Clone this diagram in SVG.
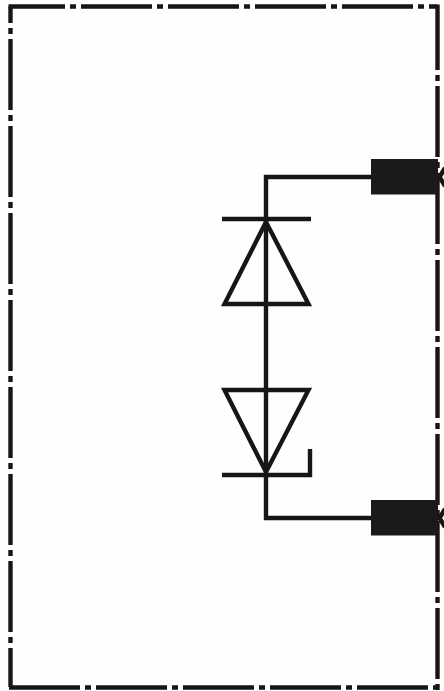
<svg xmlns="http://www.w3.org/2000/svg" width="444" height="691" viewBox="0 0 444 691">
<defs>
<filter id="soft" x="-5%" y="-5%" width="110%" height="110%" color-interpolation-filters="sRGB"><feGaussianBlur stdDeviation="0.7"/></filter>
</defs>
<style>
.ln{fill:none;stroke:#161616;stroke-width:4.400;stroke-linecap:butt;stroke-linejoin:miter}
.bd{fill:none;stroke:#161616;stroke-width:4.400;stroke-dasharray:71 5 6 5}
.pin{fill:#1a1a1a;stroke:#1a1a1a;stroke-width:1}
</style>
<rect width="444" height="691" fill="#fefefe"/>
<g filter="url(#soft)">
<g id="frame">
<path class="bd" stroke-dashoffset="14.5" d="M8.5 6.5H437"/>
<path class="bd" stroke-dashoffset="54.5" d="M10.5 6.5V687"/>
<path class="bd" stroke-dashoffset="86.5" d="M8.5 687.5H437"/>
<path class="bd" stroke-dashoffset="5.5" d="M437.5 4.5V690"/>
</g>
<g id="connectors">
<path class="ln" d="M371 177H266V518H371"/>
</g>
<g id="diode-top">
<path class="ln" d="M222 219H311"/>
<path class="ln" d="M266 222L224.500 304H308.500Z"/>
</g>
<g id="diode-bottom">
<path class="ln" d="M224.500 390H308.500L266 472Z"/>
<path class="ln" d="M222 475H310V449"/>
</g>
<g id="terminal-top">
<rect class="pin" x="371.500" y="159.500" width="66" height="34.500"/>
<path class="ln" d="M445 168L439.500 177L445 186"/>
</g>
<g id="terminal-bottom">
<rect class="pin" x="371.500" y="500.500" width="66" height="34.500"/>
<path class="ln" d="M445 509L439.500 518L445 527"/>
</g>
</g>
</svg>
